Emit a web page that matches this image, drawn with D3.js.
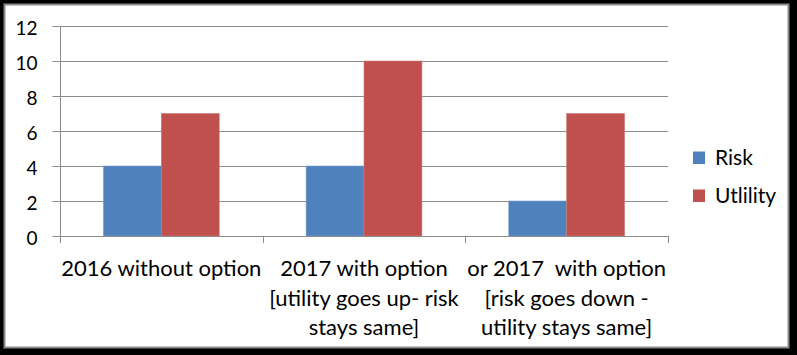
<!DOCTYPE html>
<html>
<head>
<meta charset="utf-8">
<script src="https://cdn.jsdelivr.net/npm/d3@7/dist/d3.min.js"></script>
<style>
  html, body { margin: 0; padding: 0; background: #000; }
  svg { display: block; }
  text { font-family: Lato, "Open Sans", sans-serif; fill: #000; }
</style>
</head>
<body>
<svg id="chart" width="797" height="355"></svg>
<script>
const categories = ["2016 without option", "2017 with option [utility goes up- risk stays same]", "or 2017  with option [risk goes down - utility stays same]"];
const categoryLines = [
  ["2016 without option"],
  ["2017 with option", "[utility goes up- risk", "stays same]"],
  ["or 2017  with option", "[risk goes down -", "utility stays same]"]
];
const seriesNames = ["Risk", "Utlility"];
const riskValues = [4, 4, 2];
const utilityValues = [7, 10, 7];
const yTicks = [0, 2, 4, 6, 8, 10, 12];
const colors = ["#4F81BD", "#C0504D"];

const svg = d3.select("#chart");

// frame
svg.append("rect").attr("x", 0).attr("y", 0).attr("width", 797).attr("height", 355).attr("fill", "#000");
svg.append("rect").attr("x", 4.5).attr("y", 4.5).attr("width", 784).attr("height", 343)
  .attr("fill", "#fff").attr("stroke", "#8a8a8a").attr("stroke-width", 2);

const plotLeft = 60, plotRight = 668, plotTop = 26, plotBottom = 236;

const x0 = d3.scaleBand().domain(categories).range([plotLeft, plotRight]).paddingInner(0).paddingOuter(0);
const x1 = d3.scaleBand().domain(seriesNames).range([0, x0.bandwidth()]).paddingInner(0).paddingOuter(0.75);
const y = d3.scaleLinear().domain([0, 12]).range([plotBottom, plotTop]);

// gridlines
svg.append("g").selectAll("line").data(yTicks.filter(d => d > 0)).join("line")
  .attr("x1", plotLeft).attr("x2", plotRight)
  .attr("y1", d => Math.round(y(d)) + 0.5).attr("y2", d => Math.round(y(d)) + 0.5)
  .attr("stroke", "#8c8c8c").attr("stroke-width", 1);

// bars
const data = categories.map((c, i) => ({ cat: c, values: [riskValues[i], utilityValues[i]] }));
const groups = svg.append("g").selectAll("g").data(data).join("g")
  .attr("transform", d => `translate(${x0(d.cat)},0)`);
groups.selectAll("rect").data(d => d.values.map((v, j) => ({ name: seriesNames[j], v, j }))).join("rect")
  .attr("x", d => x1(d.name))
  .attr("width", x1.bandwidth())
  .attr("y", d => y(d.v))
  .attr("height", d => y(0) - y(d.v))
  .attr("fill", d => colors[d.j])
  .attr("stroke", d => d.j === 0 ? "#7d9fcc" : "#cd7a78")
  .attr("stroke-width", 0.6);

// y axis
const yAxis = d3.axisLeft(y).tickValues(yTicks).tickSize(8).tickPadding(15).tickFormat(d3.format("d"));
const gy = svg.append("g").attr("transform", `translate(${plotLeft + 0.5},0)`).call(yAxis);
gy.select(".domain").attr("stroke", "#8c8c8c").attr("d", `M0,${plotTop}V${plotBottom}`);
gy.selectAll(".tick line").attr("stroke", "#8c8c8c");
gy.selectAll(".tick text").attr("font-size", 19).attr("font-family", "Lato, sans-serif").attr("fill", "#000").attr("dy", "0.45em");

// x axis
const boundaries = [plotLeft, ...categories.map(c => x0(c) + x0.bandwidth())];
const gx = svg.append("g");
gx.append("line").attr("x1", plotLeft).attr("x2", plotRight).attr("y1", plotBottom + 0.5).attr("y2", plotBottom + 0.5).attr("stroke", "#8c8c8c");
gx.selectAll("line.tk").data(boundaries).join("line").attr("class", "tk")
  .attr("x1", d => Math.round(d) + 0.5).attr("x2", d => Math.round(d) + 0.5)
  .attr("y1", plotBottom).attr("y2", plotBottom + 7).attr("stroke", "#8c8c8c");

// category labels
const lineBaselines = [276, 305.5, 335];
categories.forEach((c, i) => {
  const cx = x0(c) + x0.bandwidth() / 2;
  const t = svg.append("text").attr("text-anchor", "middle").attr("font-size", 22)
    .style("white-space", "pre");
  categoryLines[i].forEach((ln, k) => {
    t.append("tspan").attr("x", cx).attr("y", lineBaselines[k]).text(ln);
  });
});

// legend
const legendY = [158, 196];
seriesNames.forEach((s, i) => {
  svg.append("rect").attr("x", 693).attr("y", legendY[i] - 6.5).attr("width", 12).attr("height", 12.5).attr("fill", colors[i]);
  svg.append("text").attr("x", 715).attr("y", legendY[i] + 7).attr("font-size", 21).text(s);
});
</script>
</body>
</html>
